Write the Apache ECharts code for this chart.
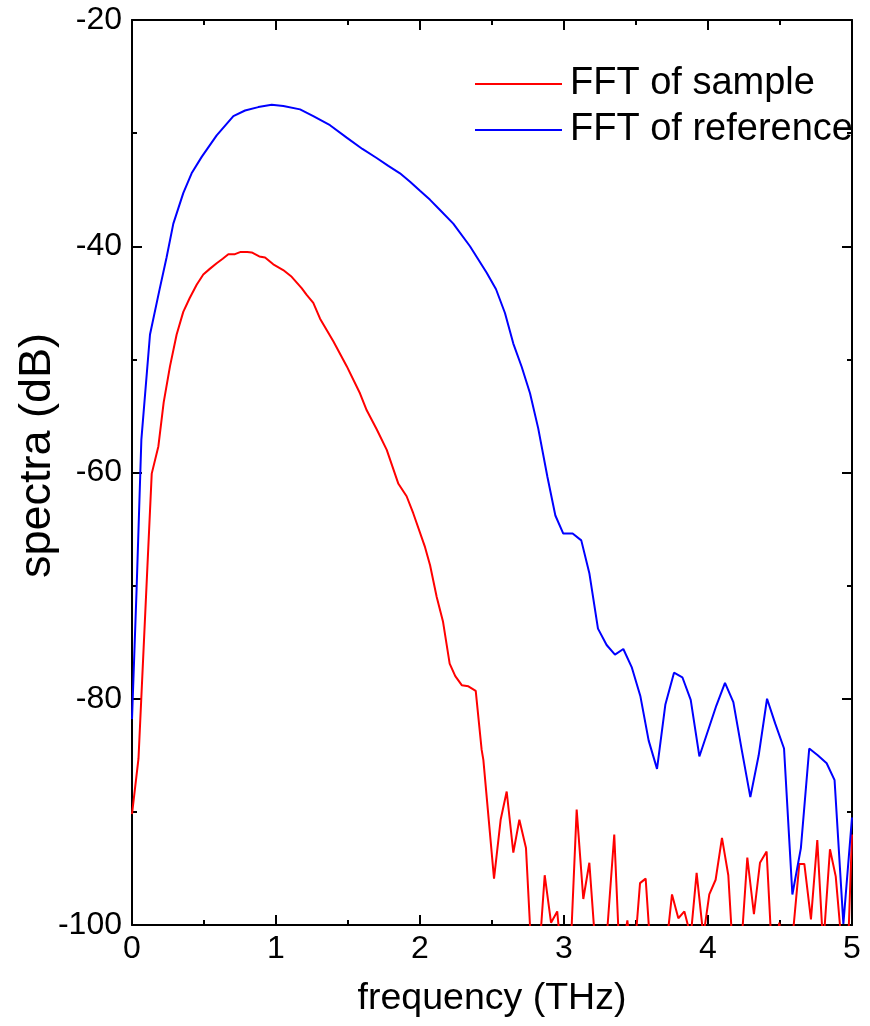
<!DOCTYPE html>
<html>
<head>
<meta charset="utf-8">
<script src="https://cdn.jsdelivr.net/npm/echarts@6/dist/echarts.min.js"></script>
<style>html,body{margin:0;padding:0;background:#fff}#c{width:870px;height:1026px}</style>
</head>
<body>
<div id="c"></div>
<script>
// Frequency (THz) / spectra (dB)
const sampleFreq = [0, 0.045, 0.137, 0.183, 0.22, 0.264, 0.31, 0.356, 0.40, 0.449, 0.495, 0.54, 0.588, 0.63, 0.669, 0.715, 0.755, 0.80, 0.831, 0.884, 0.924, 0.981, 1.05, 1.109, 1.178, 1.213, 1.259, 1.306, 1.398, 1.491, 1.583, 1.63, 1.70, 1.769, 1.85, 1.907, 1.953, 2.035, 2.07, 2.116, 2.16, 2.206, 2.245, 2.29, 2.336, 2.387, 2.428, 2.44, 2.514, 2.56, 2.602, 2.648, 2.69, 2.736, 2.78, 2.82, 2.866, 2.91, 2.953, 2.99, 3.04, 3.088, 3.134, 3.176, 3.23, 3.28, 3.349, 3.39, 3.44, 3.48, 3.528, 3.567, 3.61, 3.67, 3.71, 3.75, 3.794, 3.836, 3.88, 3.921, 3.968, 4.009, 4.053, 4.097, 4.141, 4.18, 4.22, 4.273, 4.319, 4.361, 4.407, 4.45, 4.495, 4.54, 4.588, 4.634, 4.669, 4.715, 4.759, 4.80, 4.847, 4.887, 4.93, 4.97, 5.0];
const sampleDb = [-90.2, -85.3, -60.1, -57.7, -53.8, -50.6, -47.8, -45.8, -44.6, -43.4, -42.5, -42.0, -41.5, -41.1, -40.7, -40.7, -40.5, -40.5, -40.55, -40.9, -41.0, -41.6, -42.1, -42.7, -43.7, -44.3, -45.0, -46.4, -48.4, -50.6, -53.0, -54.5, -56.2, -58.0, -61.0, -62.1, -63.6, -66.6, -68.2, -71.0, -73.2, -76.9, -78.0, -78.8, -78.9, -79.3, -84.5, -85.4, -95.9, -90.7, -88.2, -93.6, -90.7, -93.2, -104, -104, -95.6, -99.8, -98.8, -104, -104, -89.8, -97.7, -94.5, -104, -104, -92.0, -104, -99.6, -104, -96.3, -95.9, -104, -104, -102, -97.3, -99.4, -98.8, -101, -95.4, -101, -97.3, -96.0, -92.3, -95.6, -104, -104, -94.05, -99.05, -94.5, -93.5, -104, -99.8, -104, -101, -94.6, -94.6, -99.5, -92.5, -102, -93.3, -95.7, -102, -103, -92];

const refFreq = [0, 0.032, 0.065, 0.125, 0.19, 0.24, 0.287, 0.356, 0.414, 0.484, 0.588, 0.704, 0.785, 0.877, 0.97, 1.051, 1.167, 1.259, 1.375, 1.491, 1.60, 1.699, 1.78, 1.861, 1.931, 2.0, 2.07, 2.139, 2.231, 2.347, 2.463, 2.528, 2.59, 2.648, 2.706, 2.764, 2.821, 2.885, 2.94, 2.995, 3.06, 3.12, 3.176, 3.236, 3.296, 3.354, 3.412, 3.47, 3.53, 3.588, 3.646, 3.704, 3.764, 3.822, 3.88, 3.94, 3.998, 4.058, 4.118, 4.176, 4.234, 4.294, 4.352, 4.41, 4.467, 4.528, 4.586, 4.645, 4.703, 4.762, 4.824, 4.879, 4.94, 5.0];
const refDb = [-81.8, -70.3, -57.1, -47.8, -43.9, -41.0, -38.0, -35.3, -33.55, -32.1, -30.2, -28.5, -28.0, -27.7, -27.5, -27.6, -27.9, -28.5, -29.3, -30.4, -31.4, -32.2, -32.9, -33.55, -34.3, -35.1, -35.9, -36.8, -38.0, -40.0, -42.35, -43.8, -45.9, -48.6, -50.65, -53.0, -56.1, -60.4, -63.8, -65.4, -65.4, -66.0, -68.9, -73.8, -75.25, -76.1, -75.6, -77.2, -79.75, -83.7, -86.2, -80.5, -77.7, -78.1, -80.1, -85.1, -82.9, -80.6, -78.6, -80.3, -84.5, -88.7, -85.0, -80.0, -82.2, -84.4, -97.3, -93.2, -84.4, -85.0, -85.7, -87.2, -99.9, -90.5];

const xTicks = [0, 1, 2, 3, 4, 5];
const yTicks = [-100, -80, -60, -40, -20];
const seriesNames = ['FFT of sample', 'FFT of reference'];
const xTitle = 'frequency (THz)';
const yTitle = 'spectra (dB)';

const FONT = "'Liberation Sans', Arial, sans-serif";
const pairs = (xs, ys) => xs.map((x, i) => [x, ys[i]]);

const axisCommon = {
  type: 'value',
  axisLine: { show: true, onZero: false, lineStyle: { color: '#000', width: 2 } },
  axisTick: { show: true, inside: true, length: 10, lineStyle: { color: '#000', width: 2 } },
  minorTick: { show: true, splitNumber: 2, length: 5, lineStyle: { color: '#000', width: 2 } },
  splitLine: { show: false },
  minorSplitLine: { show: false }
};

const chart = echarts.init(document.getElementById('c'), null, { renderer: 'canvas' });
chart.setOption({
  animation: false,
  backgroundColor: '#fff',
  grid: { left: 132, right: 18, top: 20, bottom: 101, containLabel: false, outerBoundsMode: 'none' },
  legend: {
    orient: 'vertical',
    left: 475,
    top: 63,
    padding: 0,
    itemWidth: 87,
    itemHeight: 2,
    itemGap: 4,
    icon: 'rect',
    data: seriesNames,
    textStyle: { fontFamily: FONT, fontSize: 38, color: '#000', lineHeight: 42, padding: [0, 0, 0, 3] }
  },
  xAxis: [
    Object.assign({}, axisCommon, {
      position: 'bottom', min: xTicks[0], max: xTicks[xTicks.length - 1], interval: 1,
      name: xTitle, nameLocation: 'middle', nameGap: 55, nameMoveOverlap: false,
      nameTextStyle: { fontFamily: FONT, fontSize: 37.5, color: '#000' },
      axisLabel: { show: true, margin: 8, fontFamily: FONT, fontSize: 32, color: '#000' }
    }),
    Object.assign({}, axisCommon, {
      position: 'top', min: xTicks[0], max: xTicks[xTicks.length - 1], interval: 1,
      axisLabel: { show: false }
    })
  ],
  yAxis: [
    Object.assign({}, axisCommon, {
      position: 'left', min: yTicks[0], max: yTicks[yTicks.length - 1], interval: 20,
      name: yTitle, nameLocation: 'middle', nameGap: 72, nameRotate: 90, nameMoveOverlap: false,
      nameTextStyle: { fontFamily: FONT, fontSize: 45, color: '#000', padding: [0, 0, 0, 34] },
      axisLabel: { show: true, margin: 10, fontFamily: FONT, fontSize: 32, color: '#000' }
    }),
    Object.assign({}, axisCommon, {
      position: 'right', min: yTicks[0], max: yTicks[yTicks.length - 1], interval: 20,
      axisLabel: { show: false }
    })
  ],
  series: [
    {
      name: seriesNames[0], type: 'line', xAxisIndex: 0, yAxisIndex: 0,
      data: pairs(sampleFreq, sampleDb), showSymbol: false, symbol: 'none', clip: true,
      lineStyle: { color: '#ff0000', width: 2 }, itemStyle: { color: '#ff0000' }
    },
    {
      name: seriesNames[1], type: 'line', xAxisIndex: 0, yAxisIndex: 0,
      data: pairs(refFreq, refDb), showSymbol: false, symbol: 'none', clip: true,
      lineStyle: { color: '#0000ff', width: 2 }, itemStyle: { color: '#0000ff' }
    }
  ]
});
</script>
</body>
</html>
